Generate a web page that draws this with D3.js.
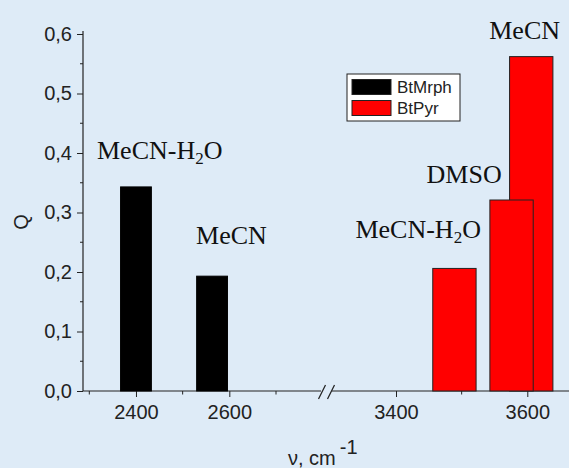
<!DOCTYPE html>
<html>
<head>
<meta charset="utf-8">
<script src="https://cdn.jsdelivr.net/npm/d3@7"></script>
<style>
  html, body { margin: 0; padding: 0; background: #deebf7; }
  svg { display: block; }
</style>
</head>
<body>
<div id="chart"></div>
<script>
// data
var seriesNames = ["BtMrph", "BtPyr"];
var mrphNu = [2400, 2563];
var mrphQ = [0.343, 0.193];
var mrphSolvent = ["MeCN-H2O", "MeCN"];
var pyrNu = [3489, 3606, 3576];
var pyrQ = [0.206, 0.562, 0.321];
var pyrSolvent = ["MeCN-H2O", "MeCN", "DMSO"];
var yTicks = [0, 0.1, 0.2, 0.3, 0.4, 0.5, 0.6];
var xTicksLeft = [2400, 2600];
var xTicksRight = [3400, 3600];
var barWidth = 66; // cm-1

var w = 569, h = 468;
var colors = ["#000000", "#ff0000"];

var svg = d3.select("#chart").append("svg")
  .attr("width", w)
  .attr("height", h);

svg.append("rect")
  .attr("width", w).attr("height", h)
  .style("fill", "#deebf7");

// broken x axis: two scales
var xL = d3.scaleLinear().domain([2300, 2700]).range([89.3, 276]);
var xR = d3.scaleLinear().domain([3400, 3600]).range([396, 527.3]);
var y = d3.scaleLinear().domain([0, 0.6]).range([391, 34]);
var x0 = 83, breakL = 321, breakR = 332;

var fmt = function(d) { return d3.format(".1f")(d).replace(".", ","); };

// y axis
var yAxis = svg.append("g")
  .attr("transform", "translate(" + x0 + ",0)")
  .call(d3.axisLeft(y).tickValues(yTicks).tickFormat(fmt).tickSize(6).tickPadding(5));
yAxis.select(".domain").remove();
yAxis.selectAll(".tick line").style("stroke", "#222");
yAxis.selectAll("text")
  .style("font-family", "Liberation Sans, Arial, sans-serif")
  .style("font-size", "20px")
  .style("fill", "#222");
yAxis.append("g").selectAll("line")
  .data(d3.range(0.05, 0.6, 0.1))
  .enter().append("line")
  .attr("x1", -3).attr("x2", 0)
  .attr("y1", function(d) { return y(d); })
  .attr("y2", function(d) { return y(d); })
  .style("stroke", "#222");
svg.append("line")
  .attr("x1", x0).attr("x2", x0)
  .attr("y1", y(0)).attr("y2", 31)
  .style("stroke", "#222").style("stroke-width", 1.2);

// x axis pieces
function xPiece(scale, ticks, minors) {
  var g = svg.append("g").attr("transform", "translate(0," + y(0) + ")");
  g.call(d3.axisBottom(scale).tickValues(ticks).tickFormat(d3.format("d")).tickSize(6).tickPadding(8));
  g.select(".domain").remove();
  g.selectAll(".tick line").style("stroke", "#222");
  g.selectAll("text")
    .style("font-family", "Liberation Sans, Arial, sans-serif")
    .style("font-size", "20px")
    .style("fill", "#222");
  g.selectAll(".minor").data(minors).enter().append("line")
    .attr("class", "minor")
    .attr("x1", function(d) { return scale(d); })
    .attr("x2", function(d) { return scale(d); })
    .attr("y1", 0).attr("y2", 3.5)
    .style("stroke", "#222");
}
xPiece(xL, xTicksLeft, [2300, 2500, 2700]);
xPiece(xR, xTicksRight, [3500]);

svg.append("line")
  .attr("x1", x0).attr("x2", breakL)
  .attr("y1", y(0)).attr("y2", y(0))
  .style("stroke", "#222").style("stroke-width", 1.2);
svg.append("line")
  .attr("x1", breakR).attr("x2", w)
  .attr("y1", y(0)).attr("y2", y(0))
  .style("stroke", "#222").style("stroke-width", 1.2);
[318.5, 327.5].forEach(function(sx) {
  svg.append("line")
    .attr("x1", sx).attr("y1", 399)
    .attr("x2", sx + 7).attr("y2", 385)
    .style("stroke", "#222").style("stroke-width", 1.2);
});

// bars
function drawBars(scale, nu, q, color, stroke) {
  svg.append("g").selectAll("rect")
    .data(nu)
    .enter().append("rect")
    .attr("x", function(d) { return scale(d - barWidth / 2); })
    .attr("width", function(d) { return scale(d + barWidth / 2) - scale(d - barWidth / 2); })
    .attr("y", function(d, i) { return y(q[i]); })
    .attr("height", function(d, i) { return y(0) - y(q[i]); })
    .style("fill", color)
    .style("stroke", stroke)
    .style("stroke-width", 1);
}
drawBars(xL, mrphNu, mrphQ, colors[0], "#000");
drawBars(xR, pyrNu, pyrQ, colors[1], "#222");

// solvent labels
var labelOffsets = {
  mrph: [[-39, -28], [-16, -32]],
  pyr: [[-99, -30], [-42, -18], [-85, -17]]
};
function addLabel(px, py, txt) {
  var t = svg.append("text")
    .attr("x", px).attr("y", py)
    .style("font-family", "Liberation Serif, 'Times New Roman', serif")
    .style("font-size", "26px")
    .style("fill", "#111");
  if (txt.indexOf("H2O") >= 0) {
    t.append("tspan").text(txt.replace("H2O", "H"));
    t.append("tspan").attr("dy", 5).style("font-size", "17px").text("2");
    t.append("tspan").attr("dy", -5).text("O");
  } else {
    t.text(txt);
  }
}
mrphNu.forEach(function(d, i) {
  addLabel(xL(d) + labelOffsets.mrph[i][0], y(mrphQ[i]) + labelOffsets.mrph[i][1], mrphSolvent[i]);
});
pyrNu.forEach(function(d, i) {
  addLabel(xR(d) + labelOffsets.pyr[i][0], y(pyrQ[i]) + labelOffsets.pyr[i][1], pyrSolvent[i]);
});

// axis titles
svg.append("text")
  .attr("transform", "translate(28," + 222 + ") rotate(-90)")
  .attr("text-anchor", "middle")
  .style("font-family", "Liberation Sans, Arial, sans-serif")
  .style("font-size", "20px")
  .style("fill", "#222")
  .text("Q");

var xt = svg.append("text")
  .attr("x", 288).attr("y", 465)
  .style("font-family", "Liberation Sans, Arial, sans-serif")
  .style("font-size", "20px")
  .style("fill", "#222");
xt.append("tspan").text("\u03bd, cm");
xt.append("tspan").attr("dx", 4).attr("dy", -11).text("-1");

// legend
var legend = svg.append("g").attr("transform", "translate(347,74)");
legend.append("rect")
  .attr("width", 113).attr("height", 47)
  .style("fill", "#fff").style("stroke", "#222").style("stroke-width", 1);
seriesNames.forEach(function(name, i) {
  legend.append("rect")
    .attr("x", 5).attr("y", 5.5 + i * 21)
    .attr("width", 39).attr("height", 15)
    .style("fill", colors[i]).style("stroke", "#222");
  legend.append("text")
    .attr("x", 50).attr("y", 19 + i * 21)
    .style("font-family", "Liberation Sans, Arial, sans-serif")
    .style("font-size", "17px")
    .style("fill", "#222")
    .text(name);
});
</script>
</body>
</html>
